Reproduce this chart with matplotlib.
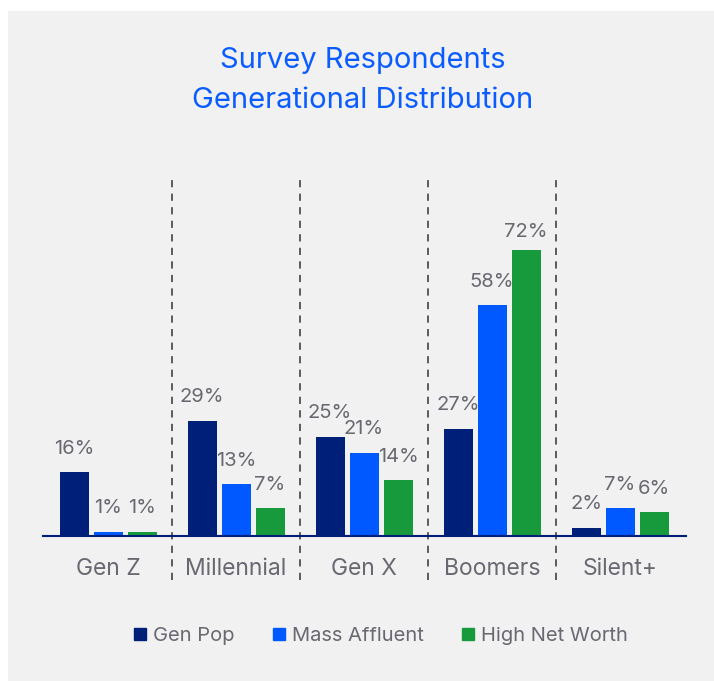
import matplotlib
matplotlib.use('Agg')
import matplotlib.pyplot as plt
import numpy as np
from matplotlib.patches import Rectangle
from matplotlib.lines import Line2D

categories = ['Gen Z', 'Millennial', 'Gen X', 'Boomers', 'Silent+']
series = ['Gen Pop', 'Mass Affluent', 'High Net Worth']
gen_pop = [16, 29, 25, 27, 2]
mass_affluent = [1, 13, 21, 58, 7]
high_net_worth = [1, 7, 14, 72, 6]
colors = ['#001f78', '#0058ff', '#169a3c']

plt.rcParams['font.family'] = ['Inter', 'DejaVu Sans']
txt_color = '#686871'

fig = plt.figure(figsize=(7.14, 6.81), dpi=100)
fig.patch.set_facecolor('white')
fig.patches.append(Rectangle((8/714, 0), 706/714, 670/681, transform=fig.transFigure,
                             facecolor='#f1f1f1', edgecolor='none', zorder=-10))

ax = fig.add_axes([44/714, 145/681, 640/714, 318/681])
ax.set_facecolor('none')
ax.set_xlim(-0.5, 4.5)
ax.set_ylim(0, 80)
for s in ax.spines.values():
    s.set_visible(False)
ax.set_xticks([])
ax.set_yticks([])

x = np.arange(len(categories))
w = 29/128
step = 34/128
for k, vals in enumerate([gen_pop, mass_affluent, high_net_worth]):
    xs = x + (k - 1) * step
    ax.bar(xs, vals, width=w, color=colors[k], label=series[k], zorder=2)
    for xi, v in zip(xs, vals):
        # the tallest bar's label sits a little closer to the bar
        off = 13 if v > 70 else 17
        ax.annotate(f'{v}%', (xi, v), xytext=(0, off), textcoords='offset points',
                    ha='center', va='center', fontsize=14.5, color=txt_color)

ax.plot([-0.505, 4.515], [0, 0], color='#001f78', lw=1.5, clip_on=False, zorder=3)
ax.vlines(x[:-1] + 0.5, -11.1, 89.7, colors='#505050', linestyles=(0, (4, 3.5)),
          lw=1.3, clip_on=False)
for xi, c in zip(x, categories):
    ax.text(xi, -8.2, c, ha='center', va='center', fontsize=16.5, color=txt_color)

fig.text(363/714, 1 - 61/681, 'Survey Respondents', ha='center', va='center',
         fontsize=21, color='#0a5cff')
fig.text(363/714, 1 - 100/681, 'Generational Distribution', ha='center', va='center',
         fontsize=21, color='#0a5cff')

handles = [Line2D([], [], marker='s', ls='none', markersize=8.6, color=c) for c in colors]
leg = fig.legend(handles, series, loc='center', bbox_to_anchor=(381/714, 45/681), ncol=3,
                 frameon=False, fontsize=14.5, handlelength=0.6, handletextpad=0.35,
                 columnspacing=1.9, labelcolor=txt_color)

fig.savefig('out.png', dpi=100)
